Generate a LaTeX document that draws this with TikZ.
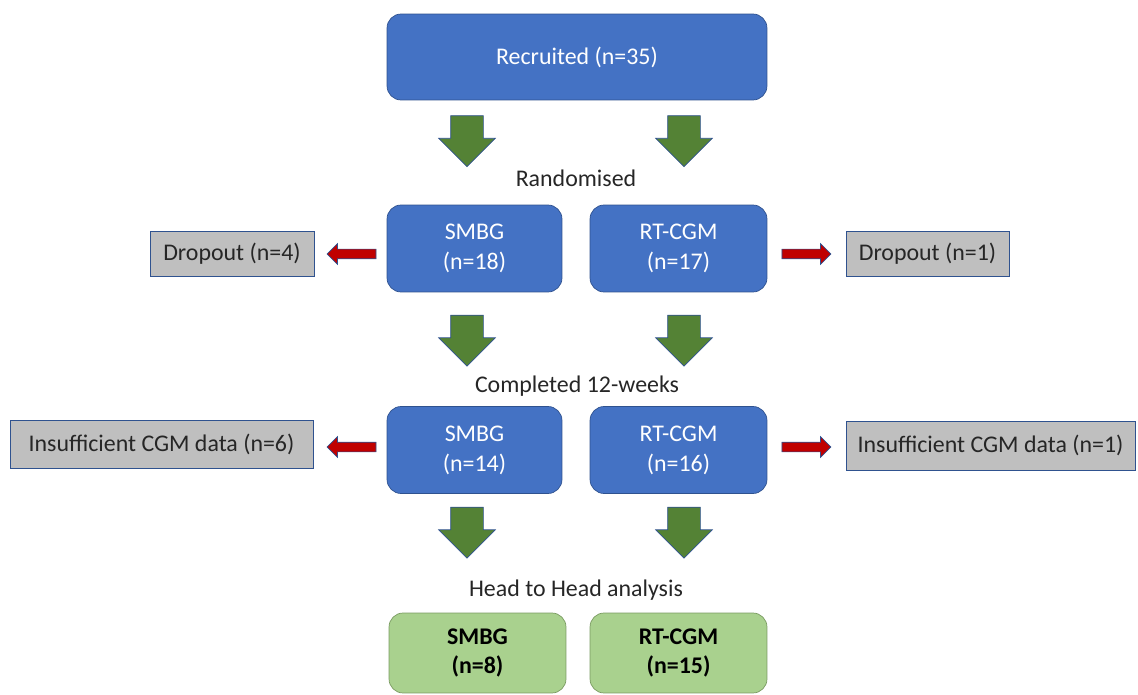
\documentclass[tikz,border=0pt]{standalone}
\usepackage{fontspec}
\setmainfont{Carlito}
\usetikzlibrary{shapes.arrows}

\definecolor{boxblue}{HTML}{4472C4}
\definecolor{edgeblue}{HTML}{2F528F}
\definecolor{boxgrey}{HTML}{BFBFBF}
\definecolor{boxgreen}{HTML}{A9D18E}
\definecolor{edgegreen}{HTML}{7A9B62}
\definecolor{arrgreen}{HTML}{548235}
\definecolor{arrred}{HTML}{C00000}
\definecolor{txt}{HTML}{262626}

\begin{document}
\begin{tikzpicture}[
  x=0.02cm, y=-0.02cm,
  every node/.style={font=\fontsize{13.6}{17}\selectfont, align=center, inner sep=0pt},
  box/.style={draw=edgeblue, fill=boxblue, text=white, rounded corners=8pt, minimum width=3.5cm, minimum height=1.74cm},
  dropbox/.style={draw=edgeblue, fill=boxgrey, text=txt, minimum height=0.9cm},
  result/.style={draw=edgegreen, fill=boxgreen, text=black, rounded corners=8pt, minimum width=3.54cm, minimum height=1.6cm, font=\fontsize{13.6}{17}\selectfont\bfseries},
  downarrow/.style={shape=single arrow, draw=edgeblue, fill=arrgreen, rotate=-90, inner xsep=0pt, inner ysep=0.32cm, minimum height=1.02cm, single arrow head extend=0.24cm},
  sidearrow/.style={shape=single arrow, draw=edgeblue, fill=arrred, inner xsep=0pt, inner ysep=0.09cm, minimum height=0.98cm, single arrow head extend=0.11cm},
  stage/.style={text=txt}
]
\useasboundingbox (0,0) rectangle (1138,695);

\node[box, minimum width=7.6cm, minimum height=1.72cm] (Rec) at (577,57) {Recruited (n=35)};

\node[downarrow] (A1) at (467,133) {};
\node[downarrow] (A2) at (684,133) {};
\node[stage] (Rand) at (576,178) {Randomised};

\node[box] (S1) at (474.5,248.5) {SMBG\\(n=18)};
\node[box, minimum width=3.54cm] (R1) at (678.5,248.5) {RT-CGM\\(n=17)};

\node[dropbox, minimum width=3.28cm] (D1) at (232,254) {Dropout (n=4)};
\node[dropbox, minimum width=3.26cm] (D2) at (927.5,253.5) {Dropout (n=1)};
\node[sidearrow, shape border rotate=180] (L1) at (354,254) {};
\node[sidearrow] (Q1) at (804,254) {};

\node[downarrow] (A3) at (467,332.5) {};
\node[downarrow] (A4) at (684,332.5) {};
\node[stage] (Comp) at (577,386) {Completed 12-weeks};

\node[box] (S2) at (474.5,450) {SMBG\\(n=14)};
\node[box, minimum width=3.54cm] (R2) at (678.5,450) {RT-CGM\\(n=16)};

\node[dropbox, minimum width=6.06cm, minimum height=0.96cm] (I1) at (161.5,444) {Insufficient CGM data (n=6)};
\node[dropbox, minimum width=5.78cm, minimum height=0.98cm] (I2) at (990.5,445.5) {Insufficient CGM data (n=1)};
\node[sidearrow, shape border rotate=180] (L2) at (354,447) {};
\node[sidearrow] (Q2) at (804,447) {};

\node[downarrow] (A5) at (467,524.5) {};
\node[downarrow] (A6) at (684,524.5) {};
\node[stage] (Head) at (576,590) {Head to Head analysis};

\node[result] (S3) at (477.5,653) {SMBG\\(n=8)};
\node[result] (R3) at (678.5,653) {RT-CGM\\(n=15)};
\end{tikzpicture}
\end{document}
